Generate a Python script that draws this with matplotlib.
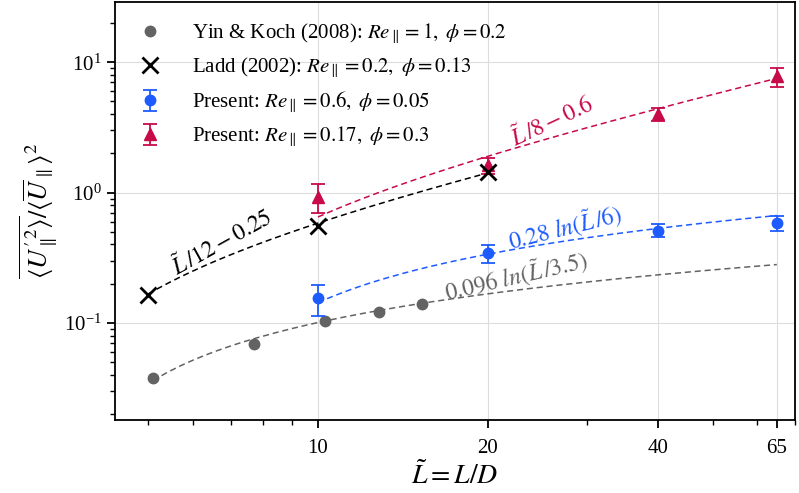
import numpy as np
import matplotlib
matplotlib.use("Agg")
import matplotlib.pyplot as plt
from matplotlib.ticker import FixedLocator, NullFormatter, LogLocator

plt.rcParams['font.family'] = ['Liberation Serif', 'DejaVu Serif']
plt.rcParams['mathtext.fontset'] = 'stix'

# Data
yk_L = [5.1, 7.7, 10.3, 12.8, 15.3]
yk_v = [0.0377, 0.0686, 0.103, 0.121, 0.141]

ladd_L = [5, 10, 20]
ladd_v = [0.163, 0.556, 1.45]

blue_L = [10, 20, 40, 65]
blue_v = [0.155, 0.343, 0.512, 0.586]
blue_err = [0.041, 0.056, 0.059, 0.076]

red_L = [10, 20, 40, 65]
red_v = [0.93, 1.62, 4.0, 7.8]
red_err = [0.23, 0.22, 0.47, 1.3]

xticks = [10, 20, 40, 65]
xticklabels = ['10', '20', '40', '65']

gray = '#636363'
blue = '#1E5BFF'
red = '#C70A48'

fig = plt.figure(figsize=(7.99, 4.93), dpi=100)
ax = fig.add_axes([0.144, 0.148, 0.851, 0.848])
ax.set_xscale('log')
ax.set_yscale('log')

# fit curves
Lg = np.linspace(5.1, 65, 200)
ax.plot(Lg, 0.096 * np.log(Lg / 3.5), '--', color=gray, lw=1.1, dashes=(4, 2.5), zorder=2)
Lk = np.linspace(5, 20, 200)
ax.plot(Lk, Lk / 12 - 0.25, '--', color='black', lw=1.1, dashes=(4, 2.5), zorder=2)
Lb = np.linspace(10, 65, 200)
ax.plot(Lb, 0.28 * np.log(Lb / 6), '--', color=blue, lw=1.1, dashes=(4, 2.5), zorder=2)
Lr = np.linspace(10, 65, 200)
ax.plot(Lr, Lr / 8 - 0.6, '--', color=red, lw=1.1, dashes=(4, 2.5), zorder=2)

ax.plot(yk_L, yk_v, 'o', color=gray, ms=7.5, ls='none', zorder=3,
        label=r'Yin & Koch (2008): $Re_{\parallel}=1,\ \phi=0.2$')
ax.plot(ladd_L, ladd_v, 'x', color='black', ms=11, mew=2, ls='none', zorder=4,
        label=r'Ladd (2002): $Re_{\parallel}=0.2,\ \phi=0.13$')
ax.errorbar(blue_L, blue_v, yerr=blue_err, fmt='o', color=blue, ms=7.5,
            capsize=5, elinewidth=1.3, capthick=1.3, zorder=3,
            label=r'Present: $Re_{\parallel}=0.6,\ \phi=0.05$')
ax.errorbar(red_L, red_v, yerr=red_err, fmt='^', color=red, ms=8,
            capsize=5, elinewidth=1.3, capthick=1.3, zorder=3,
            label=r'Present: $Re_{\parallel}=0.17,\ \phi=0.3$')

ax.set_xlim(4.37, 70)
ax.set_ylim(0.018, 29)

ax.xaxis.set_major_locator(FixedLocator(xticks))
ax.set_xticklabels(xticklabels)
ax.xaxis.set_minor_locator(FixedLocator([5, 6, 7, 8, 9, 30, 50, 60, 70]))
ax.xaxis.set_minor_formatter(NullFormatter())
ax.yaxis.set_major_locator(LogLocator(base=10, numticks=10))
ax.yaxis.set_minor_locator(LogLocator(base=10, subs=np.arange(2, 10), numticks=10))
ax.yaxis.set_minor_formatter(NullFormatter())

ax.tick_params(axis='both', which='major', labelsize=15, length=6, width=1.3, direction='out')
ax.tick_params(axis='both', which='minor', length=3.5, width=1.0, direction='out')
ax.tick_params(axis='x', pad=8)
for s in ax.spines.values():
    s.set_linewidth(1.3)

ax.grid(True, which='major', color='#dddddd', lw=0.8, zorder=0)
ax.set_axisbelow(True)

ax.set_xlabel(r'$\tilde{L}=L/D$', fontsize=20, labelpad=2)
ax.set_ylabel(r'$\overline{\langle U_{\parallel}^{\prime\,2}\rangle}/\langle\overline{U}_{\parallel}\rangle^{2}$',
              fontsize=19, labelpad=4)

# annotations
ax.text(6.77, 0.412, r'$\tilde{L}\,/12-0.25$', color='black', fontsize=17,
        rotation=29, ha='center', va='center')
ax.text(26.0, 3.54, r'$\tilde{L}\,/8-0.6$', color=red, fontsize=17,
        rotation=25, ha='center', va='center')
ax.text(27.4, 0.546, r'$0.28\ ln(\tilde{L}\,/6)$', color=blue, fontsize=17,
        rotation=14, ha='center', va='center')
ax.text(22.4, 0.230, r'$0.096\ ln(\tilde{L}\,/3.5)$', color=gray, fontsize=17,
        rotation=13, ha='center', va='center')

ax.legend(loc='upper left', frameon=False, fontsize=15, handletextpad=1.2,
          labelspacing=0.45, borderaxespad=0.5, handlelength=1.6,
          bbox_to_anchor=(0.0, 1.0))

fig.savefig('out.png', dpi=100)
